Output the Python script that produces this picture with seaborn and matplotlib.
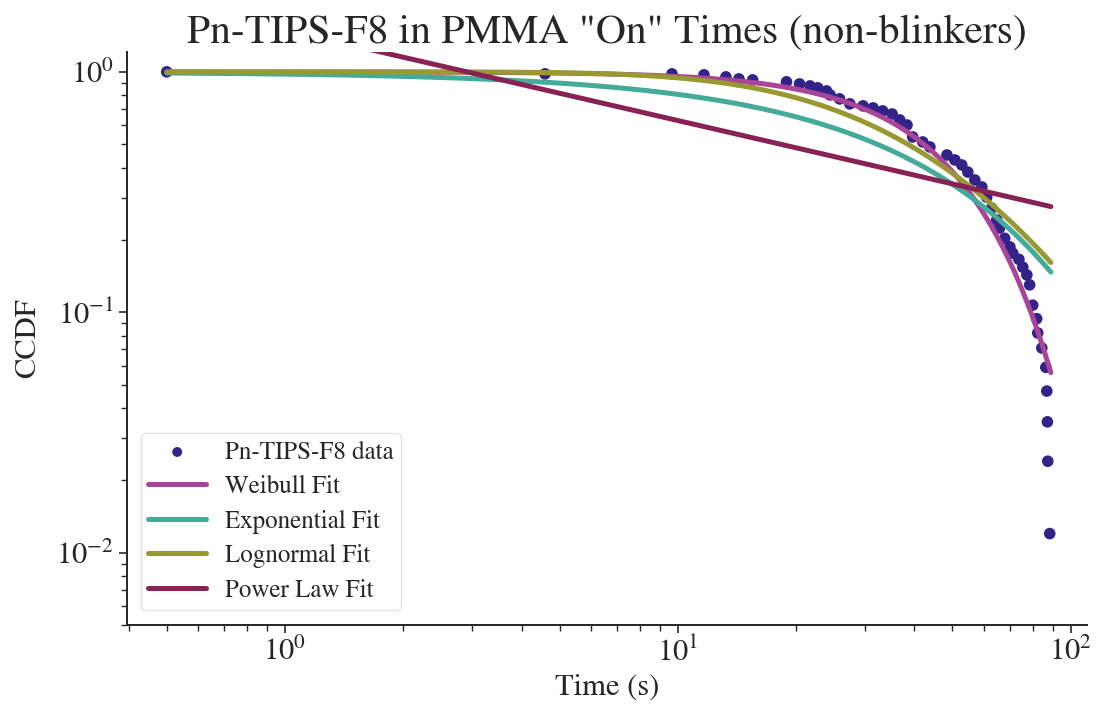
import numpy as np
import pandas as pd
import matplotlib
matplotlib.use("Agg")
import matplotlib.pyplot as plt
import seaborn as sns
from math import erfc, sqrt, log

# ---- data ----
time_s = [0.5, 4.59, 9.66, 11.65, 13.25, 14.3, 15.5, 18.9, 20.4, 21.7, 22.7, 23.9,
          24.4, 25.8, 27.4, 29.6, 31.4, 33.2, 35.1, 36.7, 38.3, 39.6, 42.0, 43.8,
          48.4, 50.7, 52.8, 54.7, 57.0, 59.4, 61.1, 62.9, 64.8, 65.9, 67.9, 70.0,
          71.2, 73.8, 75.5, 77.3, 78.6, 80.0, 81.9, 82.4, 84.4, 86.4, 86.9, 87.2,
          87.4, 88.4]
ccdf = [1.0, 0.981, 0.981, 0.972, 0.953, 0.935, 0.926, 0.909, 0.891, 0.874, 0.858,
        0.833, 0.802, 0.772, 0.736, 0.722, 0.708, 0.688, 0.668, 0.631, 0.601, 0.536,
        0.511, 0.487, 0.451, 0.430, 0.410, 0.383, 0.355, 0.332, 0.301, 0.271, 0.242,
        0.224, 0.203, 0.187, 0.176, 0.166, 0.154, 0.143, 0.130, 0.107, 0.094, 0.082,
        0.071, 0.059, 0.047, 0.035, 0.024, 0.012]

# fit parameters (estimated from the curves)
weibull_scale, weibull_shape = 51.2, 1.914
exp_tau = 46.4
logn_mu, logn_sigma = 3.65, 0.847
pl_amp, pl_ref, pl_slope = 0.274, 90.0, 0.377
fit_range = (0.5, 89.0)

labels = ["Pn-TIPS-F8 data", "Weibull Fit", "Exponential Fit", "Lognormal Fit", "Power Law Fit"]
colors = ["#332288", "#AA4499", "#44AA99", "#999933", "#882255"]

sns.set_theme(style="ticks")
plt.rcParams["font.family"] = ["STIXGeneral", "Liberation Serif", "DejaVu Serif"]
plt.rcParams["mathtext.fontset"] = "stix"
text_color = "#262626"

t = np.logspace(np.log10(fit_range[0]), np.log10(fit_range[1]), 300)
fits = {
    labels[1]: np.exp(-(t / weibull_scale) ** weibull_shape),
    labels[2]: np.exp(-t / exp_tau),
    labels[3]: np.array([0.5 * erfc((log(x) - logn_mu) / (logn_sigma * sqrt(2))) for x in t]),
    labels[4]: pl_amp * (t / pl_ref) ** (-pl_slope),
}

fig = plt.figure(figsize=(11.01, 7.09), dpi=100)
ax = fig.add_axes([0.1153, 0.1185, 0.872, 0.8082])

df = pd.DataFrame({"t": time_s, "y": ccdf})
sns.scatterplot(data=df, x="t", y="y", ax=ax, color=colors[0], s=70,
                edgecolor="none", label=labels[0], zorder=1)
for lab, col in zip(labels[1:], colors[1:]):
    sns.lineplot(x=t, y=fits[lab], ax=ax, color=col, lw=3.6, label=lab,
                 estimator=None, sort=False, zorder=2)

ax.set_xscale("log")
ax.set_yscale("log")
ax.set_xlim(0.396, 110)
ax.set_ylim(0.005, 1.21)
sns.despine(ax=ax)

ax.set_title('Pn-TIPS-F8 in PMMA "On" Times (non-blinkers)', fontsize=30, color=text_color, pad=6)
ax.set_xlabel("Time (s)", fontsize=22, color=text_color, labelpad=4)
ax.set_ylabel("CCDF", fontsize=22, color=text_color, labelpad=10)
ax.tick_params(axis="both", which="major", labelsize=22, colors=text_color, length=6, width=1.2)
ax.tick_params(axis="both", which="minor", length=4, width=1.0, colors=text_color)
for s in ax.spines.values():
    s.set_linewidth(1.4)
    s.set_color(text_color)

leg = ax.legend(loc="lower left", bbox_to_anchor=(0.0146, 0.026), borderaxespad=0,
                fontsize=18, frameon=True, handlelength=2.3, handletextpad=0.75,
                labelspacing=0.42, borderpad=0.3, markerscale=0.85)
leg.get_frame().set_edgecolor("#dddddd")
for txt in leg.get_texts():
    txt.set_color(text_color)

fig.savefig("out.png", dpi=100)
